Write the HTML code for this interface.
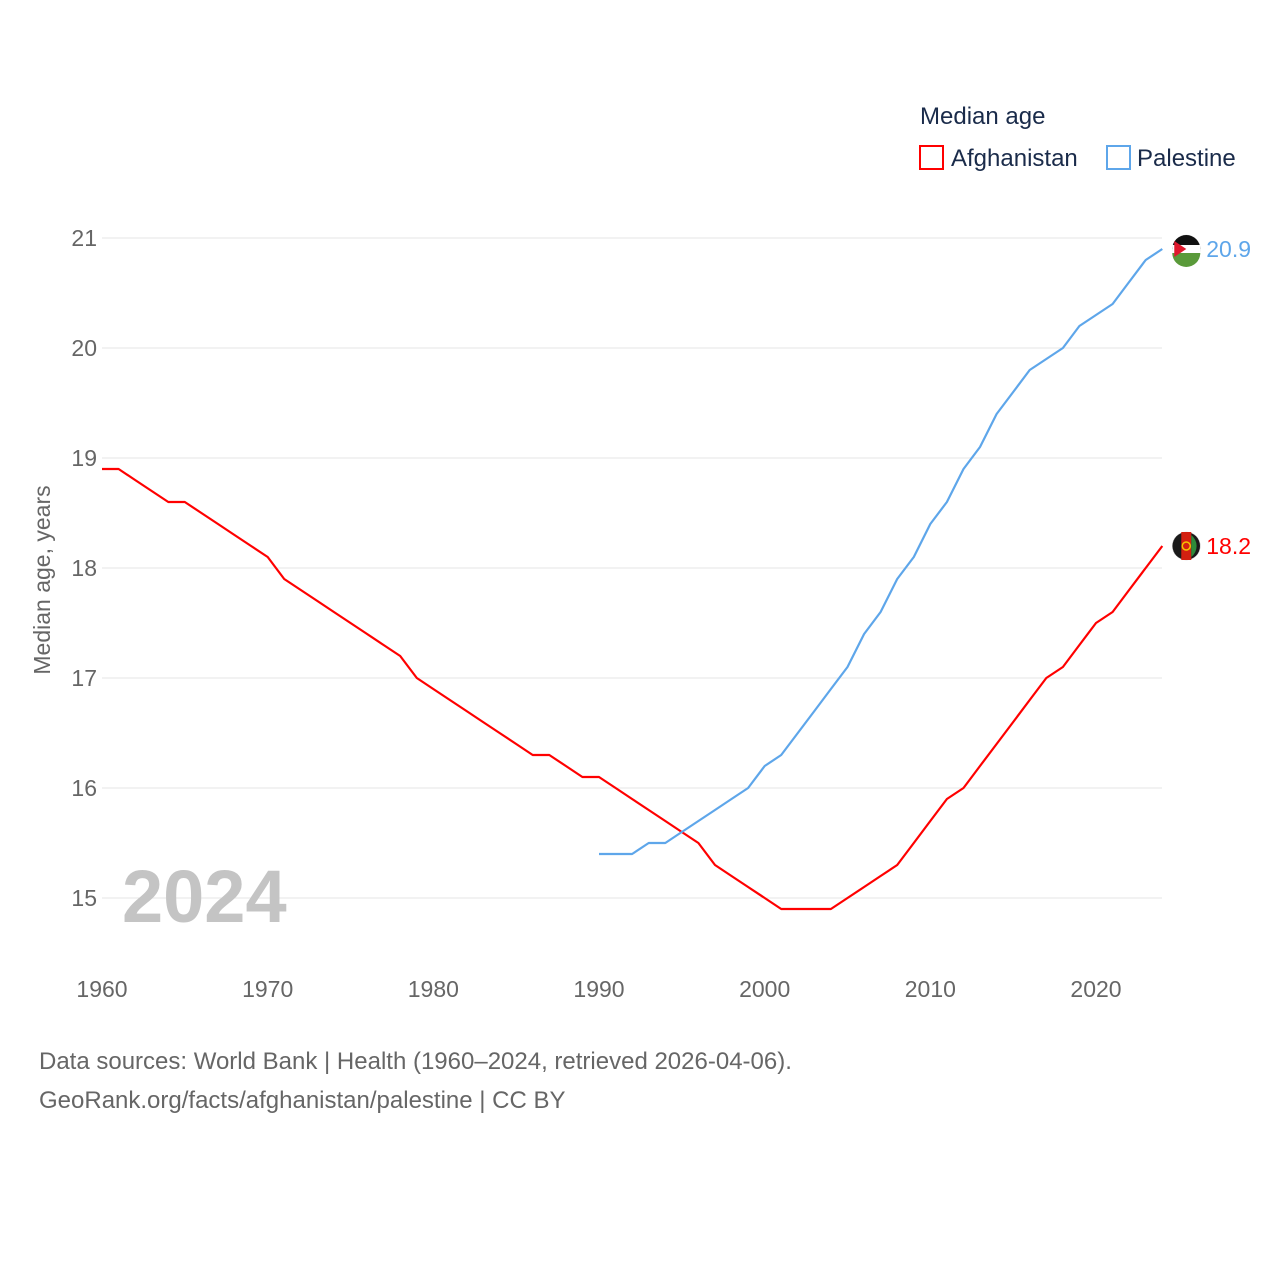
<!DOCTYPE html>
<html><head><meta charset="utf-8"><style>
body{margin:0;background:#fff;font-family:"Liberation Sans",sans-serif;}
svg text{font-family:"Liberation Sans",sans-serif;}
</style></head><body>
<svg id="chart" width="1280" height="1280" viewBox="0 0 1280 1280" xmlns="http://www.w3.org/2000/svg">
<g id="grid"></g>
<g id="yticks"></g>
<g id="xticks"></g>
<text x="0" y="0" transform="translate(50,580) rotate(-90)" text-anchor="middle" font-size="23" fill="#666">Median age, years</text>
<text x="122" y="922" font-size="74" font-weight="bold" fill="#c4c4c4">2024</text>
<g id="series"></g>
<g>
<text x="920" y="124" font-size="24" fill="#1a2b4a">Median age</text>
<rect x="920" y="146" width="23" height="23" fill="none" stroke="#f00" stroke-width="2"/>
<text x="951" y="166" font-size="24" fill="#1a2b4a">Afghanistan</text>
<rect x="1107" y="146" width="23" height="23" fill="none" stroke="#5ea6ea" stroke-width="2"/>
<text x="1137" y="166" font-size="24" fill="#1a2b4a">Palestine</text>
</g>
<text x="39" y="1069" font-size="24" fill="#666">Data sources: World Bank | Health (1960–2024, retrieved 2026-04-06).</text>
<text x="39" y="1108" font-size="24" fill="#666">GeoRank.org/facts/afghanistan/palestine | CC BY</text>
</svg>
<script>
const years=[];for(let y=1960;y<=2024;y++)years.push(y);
const afghanistan=[18.9,18.9,18.8,18.7,18.6,18.6,18.5,18.4,18.3,18.2,18.1,17.9,17.8,17.7,17.6,17.5,17.4,17.3,17.2,17.0,16.9,16.8,16.7,16.6,16.5,16.4,16.3,16.3,16.2,16.1,16.1,16.0,15.9,15.8,15.7,15.6,15.5,15.3,15.2,15.1,15.0,14.9,14.9,14.9,14.9,15.0,15.1,15.2,15.3,15.5,15.7,15.9,16.0,16.2,16.4,16.6,16.8,17.0,17.1,17.3,17.5,17.6,17.8,18.0,18.2];
const palestineYears=[];for(let y=1990;y<=2024;y++)palestineYears.push(y);
const palestine=[15.4,15.4,15.4,15.5,15.5,15.6,15.7,15.8,15.9,16.0,16.2,16.3,16.5,16.7,16.9,17.1,17.4,17.6,17.9,18.1,18.4,18.6,18.9,19.1,19.4,19.6,19.8,19.9,20.0,20.2,20.3,20.4,20.6,20.8,20.9];
const yTicks=[15,16,17,18,19,20,21];
const xTicks=[1960,1970,1980,1990,2000,2010,2020];
const NS='http://www.w3.org/2000/svg';
const X=y=>102+(y-1960)*(994/60);
const Y=v=>898-(v-15)*110;
function mk(tag,attrs,parent){const e=document.createElementNS(NS,tag);for(const k in attrs)e.setAttribute(k,attrs[k]);document.getElementById(parent).appendChild(e);return e;}
yTicks.forEach(v=>{
 const l=mk('line',{x1:102,x2:1162,y1:Y(v),y2:Y(v),stroke:'#e6e6e6','stroke-width':1},'grid');
 
 
 const t=mk('text',{x:97,y:Y(v)+8,'text-anchor':'end','font-size':23,fill:'#666'},'yticks');t.textContent=v;
 
 
});
xTicks.forEach(v=>{
 const t=mk('text',{x:X(v),y:997,'text-anchor':'middle','font-size':23,fill:'#666'},'xticks');t.textContent=v;
 
 
});
function line(xs,vs,color,name){
 const d=xs.map((x,i)=>(i?'L':'M')+X(x).toFixed(1)+','+Y(vs[i]).toFixed(1)).join('');
 const p=mk('path',{d:d,fill:'none',stroke:color,'stroke-width':2.2,'stroke-linejoin':'round'},'series');
 
 
 const lx=X(xs[xs.length-1]),lv=vs[vs.length-1],ly=Y(lv);
 const c=mk('circle',{cx:lx+24,cy:ly,r:14,fill:color==='#f00'?'#1a1a1a':'#fff',stroke:'#ccc','stroke-width':0.5},'series');
 
 
 const t=mk('text',{x:lx+44,y:ly+8,'font-size':23,fill:color},'series');t.textContent=lv.toFixed(1);
 
 
 return [lx+24,ly];
}
const [ax,ay]=line(years,afghanistan,'#f00','afghanistan');
const [px,py]=line(palestineYears,palestine,'#5ea6ea','palestine');
// flag details
mk('rect',{x:ax-5,y:ay-14,width:10,height:28,fill:'#d32011'},'series');
mk('path',{d:`M${ax+5},${ay-11} A14,14 0 0 1 ${ax+5},${ay+11} Z`,fill:'#2e8b3a'},'series');
mk('circle',{cx:ax,cy:ay,r:4,fill:'none',stroke:'#f5c400','stroke-width':1.5},'series');
mk('path',{d:`M${px-14},${py} A14,14 0 0 1 ${px+14},${py} L${px-14},${py} Z`,fill:'#111'},'series');
mk('rect',{x:px-14,y:py-4,width:28,height:8,fill:'#fff'},'series');
mk('path',{d:`M${px-14},${py+4} L${px+14},${py+4} A14,14 0 0 1 ${px-14},${py+4} Z`,fill:'#5a9a3a'},'series');
mk('path',{d:`M${px-12},${py-8} L${px},${py} L${px-12},${py+8} Z`,fill:'#e0182d'},'series');
</script>
</body></html>
